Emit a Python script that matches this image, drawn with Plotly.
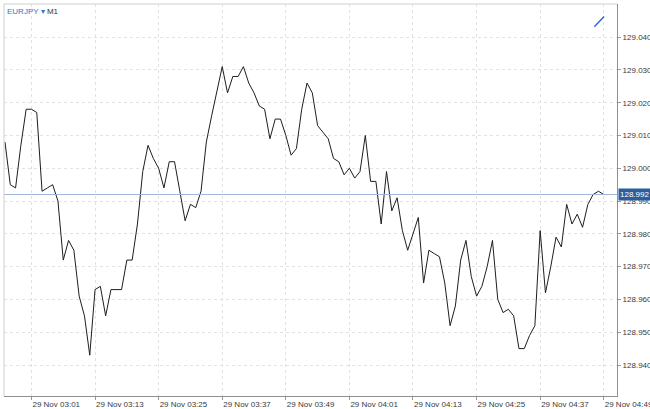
import pandas as pd
import plotly.graph_objects as go

symbol = "EURJPY"
timeframe = "M1"
start_time = "2021-11-29 02:56"
last_price = 128.992

close_prices = [
    129.008, 128.995, 128.994, 129.007, 129.018, 129.018, 129.017, 128.993, 128.994, 128.995,
    128.990, 128.972, 128.978, 128.975, 128.961, 128.955, 128.943, 128.963, 128.964, 128.955,
    128.963, 128.963, 128.963, 128.972, 128.972, 128.983, 128.999, 129.007, 129.003, 129.000,
    128.994, 129.002, 129.002, 128.993, 128.984, 128.989, 128.988, 128.993, 129.008, 129.016,
    129.024, 129.031, 129.023, 129.028, 129.028, 129.031, 129.026, 129.023, 129.019, 129.018,
    129.009, 129.015, 129.015, 129.010, 129.004, 129.006, 129.018, 129.026, 129.023, 129.013,
    129.011, 129.009, 129.003, 129.002, 128.998, 129.000, 128.997, 128.999, 129.010, 128.996,
    128.996, 128.983, 128.999, 128.987, 128.991, 128.981, 128.975, 128.980, 128.985, 128.965,
    128.975, 128.974, 128.973, 128.965, 128.952, 128.958, 128.972, 128.978, 128.967, 128.961,
    128.964, 128.970, 128.978, 128.960, 128.956, 128.957, 128.955, 128.945, 128.945, 128.949,
    128.952, 128.981, 128.962, 128.970, 128.979, 128.976, 128.989, 128.983, 128.986, 128.982,
    128.989, 128.992, 128.993, 128.992,
]

tick_times = ["03:01", "03:13", "03:25", "03:37", "03:49", "04:01", "04:13", "04:25", "04:37", "04:49"]
tick_labels = ["29 Nov " + t for t in tick_times]
y_ticks = [128.940, 128.950, 128.960, 128.970, 128.980, 128.990, 129.000, 129.010, 129.020, 129.030, 129.040]

times = pd.date_range(start_time, periods=len(close_prices), freq="min")
tick_vals = [pd.Timestamp("2021-11-29 " + t) for t in tick_times]

t0 = times[0]
x_range = [t0 - pd.Timedelta(seconds=11), t0 + pd.Timedelta(seconds=int(115.5 * 60))]

FONT = "Liberation Sans, Arial, sans-serif"

fig = go.Figure()
fig.add_trace(go.Scatter(
    x=times, y=close_prices, mode="lines",
    line=dict(color="#1e1e1e", width=1),
    hoverinfo="skip", showlegend=False,
))

fig.add_hline(y=last_price, line=dict(color="#a4b6d8", width=1))

fig.update_layout(
    width=650, height=409,
    margin=dict(l=4, r=33, t=4, b=13, autoexpand=False),
    paper_bgcolor="white", plot_bgcolor="white",
    font=dict(family=FONT, size=8, color="#3a3a3a"),
    showlegend=False,
    xaxis=dict(
        range=x_range, type="date",
        tickmode="array", tickvals=tick_vals, ticktext=tick_labels,
        ticklabelposition="outside right", ticklabeloverflow="allow",
        ticks="outside", ticklen=3, tickcolor="#9a9a9a",
        showgrid=True, gridcolor="#e2e2e2", griddash="dot", gridwidth=1,
        showline=True, linecolor="#8f8f8f", linewidth=1,
        zeroline=False, fixedrange=True, automargin=False,
    ),
    yaxis=dict(
        range=[128.93055, 129.0501], side="right",
        tickmode="array", tickvals=y_ticks, ticktext=[f"{v:.3f}" for v in y_ticks],
        ticklabeloverflow="allow",
        ticks="outside", ticklen=3, tickcolor="#9a9a9a",
        showgrid=True, gridcolor="#e2e2e2", griddash="dot", gridwidth=1,
        showline=True, linecolor="#8f8f8f", linewidth=1,
        zeroline=False, fixedrange=True, automargin=False,
    ),
)

# light frame around the plot area (top / left)
fig.add_shape(type="line", xref="paper", yref="paper", x0=0, x1=1, y0=1, y1=1,
              line=dict(color="#cfcfcf", width=1))
fig.add_shape(type="line", xref="paper", yref="paper", x0=0, x1=0, y0=0, y1=1,
              line=dict(color="#cfcfcf", width=1))

# autoscroll marker (top right)
fig.add_shape(type="line", xref="paper", yref="paper", x0=0.963, y0=0.942, x1=0.979, y1=0.968,
              line=dict(color="#2a6fd6", width=1.5))

# symbol / timeframe label
fig.add_annotation(
    xref="paper", yref="paper", x=0, y=1, xanchor="left", yanchor="top",
    xshift=1, yshift=-1, showarrow=False,
    text=f"<span style='color:#2a78d8'>{symbol} ▾</span> <span style='color:#333'>{timeframe}</span>",
    font=dict(family=FONT, size=8),
)

# current price label
fig.add_annotation(
    xref="paper", yref="y", x=1, y=last_price, xanchor="left", yanchor="middle",
    xshift=1, showarrow=False, text=f"{last_price:.3f}",
    bgcolor="#2d5e9c", font=dict(family=FONT, size=8, color="white"), borderpad=1,
)

fig.write_html(
    "out.html",
    config={"displayModeBar": False, "staticPlot": True},
    post_script="document.body.style.margin='0';document.body.style.overflow='hidden';",
)
